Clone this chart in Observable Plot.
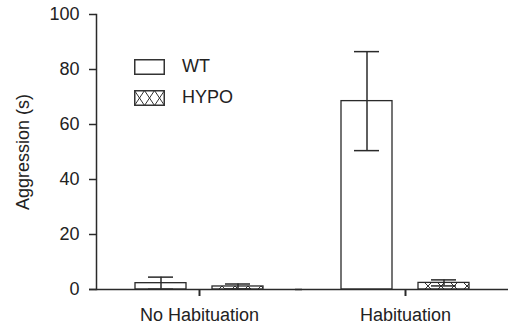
<!DOCTYPE html>
<html>
<head>
<meta charset="utf-8">
<script src="https://cdn.jsdelivr.net/npm/d3@7"></script>
<script src="https://cdn.jsdelivr.net/npm/@observablehq/plot@0.6"></script>
<style>
  html, body { margin: 0; padding: 0; background: #fff; }
  #wrap { position: relative; width: 508px; height: 328px; font-family: "Liberation Sans", Arial, Helvetica, sans-serif; color: #222; }
  .leg { position: absolute; left: 134px; display: flex; align-items: center; font-size: 18px; }
  .leg svg { display: block; margin-right: 17px; }
</style>
</head>
<body>
<div id="wrap"></div>
<script>
const categories = ["No Habituation", "Habituation"];
const genotypes = ["WT", "HYPO"];
const wtMean = [2.3, 68.5];
const wtSem = [2.2, 18.0];
const hypoMean = [1.1, 2.4];
const hypoSem = [0.9, 1.1];
const yTicks = [0, 20, 40, 60, 80, 100];

const rows = [];
categories.forEach((c, i) => {
  rows.push({cat: c, geno: "WT", mean: wtMean[i], sem: wtSem[i]});
  rows.push({cat: c, geno: "HYPO", mean: hypoMean[i], sem: hypoSem[i]});
});

const ink = "#2a2a2a";
const chart = Plot.plot({
  width: 508,
  height: 328,
  marginTop: 14,
  marginBottom: 39,
  marginLeft: 95,
  marginRight: 0,
  style: {fontFamily: "'Liberation Sans', Arial, Helvetica, sans-serif", fontSize: "18px", color: "#222", background: "#fff"},
  fx: {domain: categories, padding: 0},
  x: {domain: genotypes, paddingInner: 0.333, paddingOuter: 0.49, axis: null},
  y: {domain: [0, 100]},
  marks: [
    Plot.barY(rows, {fx: "cat", x: "geno", y: "mean", fill: d => d.geno === "WT" ? "white" : "url(#xhatch)", stroke: ink, strokeWidth: 1.3}),
    Plot.ruleX(rows, {fx: "cat", x: "geno", y1: d => d.mean - d.sem, y2: d => d.mean + d.sem, stroke: ink, strokeWidth: 1.5}),
    Plot.tickY(rows, {fx: "cat", x: "geno", y: d => d.mean + d.sem, stroke: ink, strokeWidth: 1.5, insetLeft: 13, insetRight: 13}),
    Plot.tickY(rows, {fx: "cat", x: "geno", y: d => d.mean - d.sem, stroke: ink, strokeWidth: 1.5, insetLeft: 13, insetRight: 13}),
    Plot.ruleY([0], {stroke: ink, strokeWidth: 1.5, insetLeft: -7}),
    Plot.frame({anchor: "left", facetAnchor: "left", stroke: ink, strokeWidth: 1.5}),
    Plot.axisY({ticks: yTicks, tickSize: 7, tickPadding: 10, stroke: ink, strokeWidth: 1.5, strokeOpacity: 1, label: "Aggression (s)", labelAnchor: "center", labelOffset: 80, labelArrow: "none"}),
    Plot.axisFx({anchor: "bottom", tickSize: 7, tickPadding: 12, stroke: ink, strokeWidth: 2, strokeOpacity: 1, label: null})
  ]
});

const ns = "http://www.w3.org/2000/svg";
const defs = document.createElementNS(ns, "defs");
defs.innerHTML = '<pattern id="xhatch" patternUnits="userSpaceOnUse" width="13" height="13"><rect width="13" height="13" fill="white"/><path d="M0,0L13,13M13,0L0,13" stroke="#333" stroke-width="1"/></pattern>';
chart.insertBefore(defs, chart.firstChild);

const wrap = document.getElementById("wrap");
wrap.appendChild(chart);

function legendItem(label, top, hatched) {
  const div = document.createElement("div");
  div.className = "leg";
  div.style.top = top + "px";
  const sw = hatched
    ? '<svg width="31" height="16"><path d="M0.5,0.5L10.5,15.5M10.5,0.5L0.5,15.5M10.5,0.5L20.5,15.5M20.5,0.5L10.5,15.5M20.5,0.5L30.5,15.5M30.5,0.5L20.5,15.5" stroke="#333" stroke-width="1" fill="none"/><rect x="0.75" y="0.75" width="29.5" height="14.5" fill="none" stroke="#333" stroke-width="1.5"/></svg>'
    : '<svg width="31" height="16"><rect x="0.75" y="0.75" width="29.5" height="14.5" fill="white" stroke="#333" stroke-width="1.5"/></svg>';
  div.innerHTML = sw + "<span>" + label + "</span>";
  wrap.appendChild(div);
}
legendItem(genotypes[0], 56, false);
legendItem(genotypes[1], 87, true);
</script>
</body>
</html>
